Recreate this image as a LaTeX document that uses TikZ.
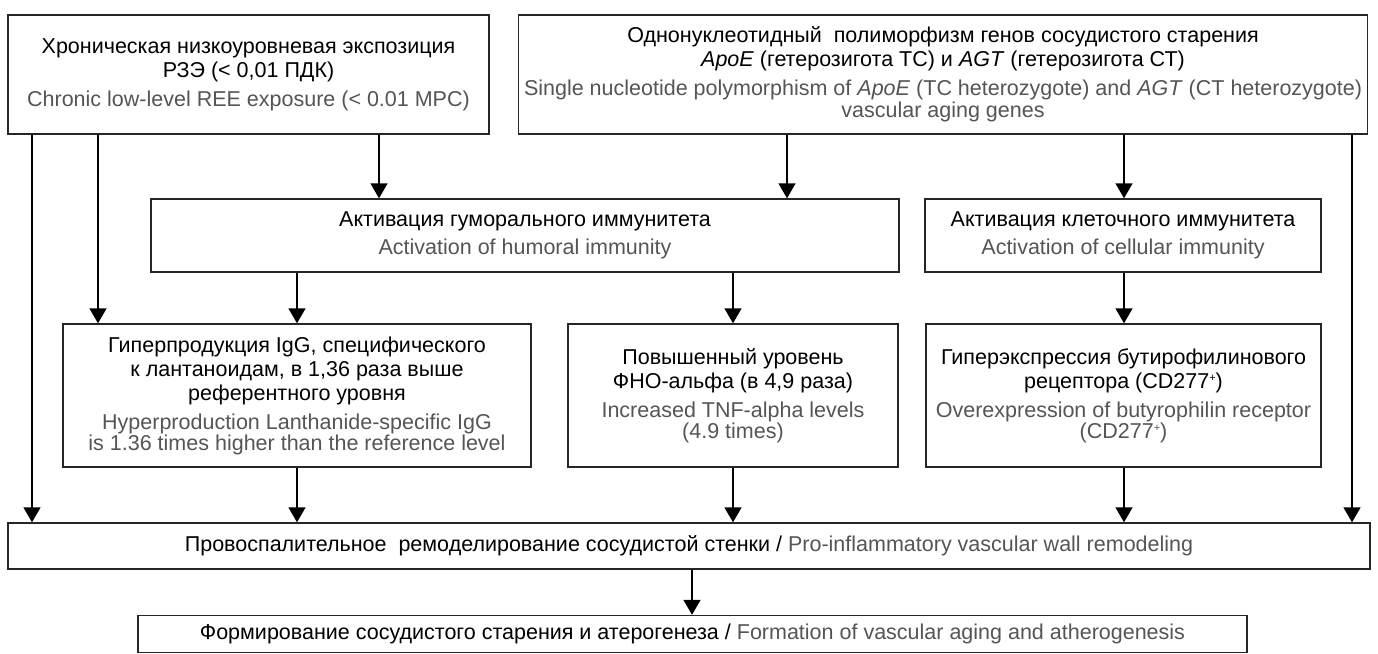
\documentclass[tikz,border=0pt]{standalone}
\usepackage{fontspec}
\setmainfont{Liberation Sans}
\usetikzlibrary{arrows.meta}
\definecolor{engray}{HTML}{555555}
\definecolor{boxline}{HTML}{262626}
\newcommand{\en}[1]{{\color{engray}#1}}
\newcommand{\supplus}{\raisebox{6.5pt}{\fontsize{11}{11}\selectfont +}}
\begin{document}
\begin{tikzpicture}[x=1pt,y=-1pt,
  box/.style={draw=boxline, line width=1.4pt, rectangle, inner sep=0pt, align=center,
    font=\fontsize{21.5}{24}\selectfont},
  arr/.style={draw=black, line width=1.5pt, -{Triangle[width=17pt,length=15pt]}}]
\useasboundingbox (0,0) rectangle (1378,653);
\fill[white] (0,0) rectangle (1378,653);

\node[box, minimum width=481pt, minimum height=119pt] (A) at (248.5,74.5)
  {Хроническая низкоуровневая экспозиция\\РЗЭ (< 0,01 ПДК)\\[5pt]
   \en{Chronic low-level REE exposure (< 0.01 MPC)}};
\node[box, minimum width=849pt, minimum height=119pt] (B) at (943,74.5)
  {Однонуклеотидный~ полиморфизм генов сосудистого старения\\
   \textit{ApoE} (гетерозигота ТС) и \textit{AGT} (гетерозигота СТ)\\[5pt]
   \en{Single nucleotide polymorphism of \textit{ApoE} (TC heterozygote) and \textit{AGT} (CT heterozygote)}\\[-2pt]
   \en{vascular aging genes}};
\node[box, minimum width=748pt, minimum height=73pt] (Hum) at (525,235.5)
  {Активация гуморального иммунитета\\[4pt]\en{Activation of humoral immunity}};
\node[box, minimum width=396pt, minimum height=73pt] (Cell) at (1123,235.5)
  {Активация клеточного иммунитета\\[4pt]\en{Activation of cellular immunity}};
\node[box, minimum width=468pt, minimum height=143pt] (Hyp) at (297,395.5)
  {Гиперпродукция IgG, специфического\\к лантаноидам, в 1,36 раза выше\\референтного уровня\\[5pt]
   \en{Hyperproduction Lanthanide-specific IgG}\\[-3pt]
   \en{is 1.36 times higher than the reference level}};
\node[box, minimum width=330pt, minimum height=143pt] (TNF) at (733,395.5)
  {Повышенный уровень\\ФНО-альфа (в 4,9 раза)\\[5pt]
   \en{Increased TNF-alpha levels}\\[-3pt]\en{(4.9 times)}};
\node[box, minimum width=395pt, minimum height=143pt] (CD) at (1123.5,395.5)
  {Гиперэкспрессия бутирофилинового\\рецептора (CD277\supplus)\\[5pt]
   \en{Overexpression of butyrophilin receptor}\\[-3pt]\en{(CD277\supplus)}};
\node[box, minimum width=1362pt, minimum height=46pt] (Rem) at (689,546)
  {Провоспалительное~ ремоделирование сосудистой стенки / \en{Pro-inflammatory vascular wall remodeling}};
\node[box, minimum width=1109pt, minimum height=37pt] (Fin) at (692.5,634)
  {Формирование сосудистого старения и атерогенеза / \en{Formation of vascular aging and atherogenesis}};

\coordinate (c1) at (32,0);
\coordinate (c2) at (98,0);
\coordinate (c3) at (379,0);
\coordinate (c4) at (787,0);
\coordinate (c5) at (1124,0);
\coordinate (c6) at (1352,0);
\coordinate (c7) at (297,0);
\coordinate (c8) at (733,0);
\coordinate (c9) at (692,0);

\draw[arr] (c1 |- A.south) -- (c1 |- Rem.north);
\draw[arr] (c2 |- A.south) -- (c2 |- Hyp.north);
\draw[arr] (c3 |- A.south) -- (c3 |- Hum.north);
\draw[arr] (c4 |- B.south) -- (c4 |- Hum.north);
\draw[arr] (c5 |- B.south) -- (c5 |- Cell.north);
\draw[arr] (c6 |- B.south) -- (c6 |- Rem.north);
\draw[arr] (c7 |- Hum.south) -- (c7 |- Hyp.north);
\draw[arr] (c8 |- Hum.south) -- (c8 |- TNF.north);
\draw[arr] (c5 |- Cell.south) -- (c5 |- CD.north);
\draw[arr] (c7 |- Hyp.south) -- (c7 |- Rem.north);
\draw[arr] (c8 |- TNF.south) -- (c8 |- Rem.north);
\draw[arr] (c5 |- CD.south) -- (c5 |- Rem.north);
\draw[arr] (c9 |- Rem.south) -- (c9 |- Fin.north);
\end{tikzpicture}
\end{document}
